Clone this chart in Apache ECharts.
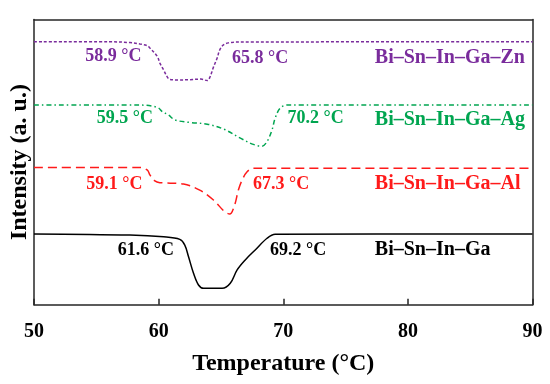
<!DOCTYPE html>
<html>
<head>
<meta charset="utf-8">
<script src="https://cdn.jsdelivr.net/npm/echarts@6/dist/echarts.min.js"></script>
<style>html,body{margin:0;padding:0;background:#fff}#c{width:550px;height:384px}</style>
</head>
<body>
<div id="c"></div>
<script>
// Temperatures (°C) and intensities (a.u., arbitrary 0–100 scale)
const znT = [50, 56.0, 57.7, 58.5, 59.1, 59.3, 59.9, 60.1, 60.4, 60.7, 60.9, 61.6, 62.5, 63.4, 63.9, 64.1, 64.4, 64.7, 64.9, 65.2, 65.6, 66.3, 90];
const znI = [92.2, 92.2, 91.9, 91.4, 90.8, 90.0, 87.0, 84.7, 82.3, 79.8, 79.0, 78.8, 78.9, 79.1, 78.6, 79.6, 83.3, 86.5, 89.3, 91.1, 91.8, 92.1, 92.2];

const agT = [50, 58.5, 59.9, 60.3, 60.8, 61.3, 62.5, 63.9, 65.2, 66.6, 67.6, 68.3, 68.7, 69.1, 69.35, 69.75, 70.3, 90];
const agI = [70.0, 70.0, 69.2, 67.7, 66.5, 64.8, 63.9, 63.3, 61.6, 58.3, 56.2, 55.6, 57.2, 61.3, 65.4, 68.9, 70.0, 70.0];

const alT = [50, 58.5, 59.1, 59.3, 59.7, 60.1, 62.0, 63.3, 64.4, 65.3, 65.7, 66.1, 66.4, 66.7, 67.1, 67.6, 90];
const alI = [48.1, 48.1, 47.2, 45.5, 43.4, 42.8, 42.3, 40.2, 36.7, 32.6, 31.8, 35.0, 40.2, 43.7, 46.6, 47.8, 47.8];

const gaT = [50, 57.7, 60.4, 61.7, 62.1, 62.4, 62.8, 63.2, 63.6, 65.1, 65.75, 66.3, 66.95, 67.75, 68.7, 69.35, 90];
const gaI = [24.8, 24.4, 23.8, 22.9, 20.9, 16.8, 11.0, 6.9, 5.75, 5.75, 7.5, 12.2, 15.7, 19.2, 23.3, 24.7, 24.8];

// Annotations: [temperature, intensity, text]
const znNotes = [[56.37, 87.2, '58.9 °C'], [68.15, 86.5, '65.8 °C']];
const agNotes = [[57.29, 65.5, '59.5 °C'], [72.60, 65.5, '70.2 °C']];
const alNotes = [[56.45, 42.3, '59.1 °C'], [69.83, 42.3, '67.3 °C']];
const gaNotes = [[58.97, 19.2, '61.6 °C'], [71.19, 19.2, '69.2 °C']];
const names = [
  [77.35, 86.4, 'Bi–Sn–In–Ga–Zn'],
  [77.35, 64.8, 'Bi–Sn–In–Ga–Ag'],
  [77.35, 42.3, 'Bi–Sn–In–Ga–Al'],
  [77.35, 19.2, 'Bi–Sn–In–Ga']
];

const xTicks = [50, 60, 70, 80, 90];

const FONT = '"Liberation Serif","Times New Roman",serif';
const C_ZN = '#7a2c9c', C_AG = '#00a550', C_AL = '#ff1a1a', C_GA = '#000000';
const AX = '#262626';

function zip(t, v) { return t.map((x, i) => [x, v[i]]); }
function curve(t, v, color, type) {
  return {
    type: 'line', data: zip(t, v), showSymbol: false, symbol: 'none',
    smooth: 0.35, silent: true,
    lineStyle: { color, width: 1.5, type }
  };
}
function notes(items, color, align, size) {
  return {
    type: 'scatter', symbolSize: 0, silent: true,
    itemStyle: { opacity: 1 },
    data: items.map(d => ({ value: [d[0], d[1]], label: { formatter: d[2] } })),
    label: { show: true, position: [0, 0], align, verticalAlign: 'middle', opacity: 1,
      color, fontFamily: FONT, fontWeight: 'bold', fontSize: size }
  };
}
const lineOnly = { show: true, onZero: false, lineStyle: { color: AX, width: 1.5 } };

const chart = echarts.init(document.getElementById('c'), null, { renderer: 'canvas' });
chart.setOption({
  animation: false,
  backgroundColor: '#fff',
  grid: { left: 33.5, right: 17.5, top: 19.5, bottom: 79.3, containLabel: false },
  xAxis: [{
    type: 'value', min: xTicks[0], max: xTicks[xTicks.length - 1], interval: 10,
    position: 'bottom',
    axisLine: lineOnly,
    axisTick: { show: true, inside: true, length: 6, lineStyle: { color: AX, width: 1.5 } },
    axisLabel: { show: true, margin: 17, color: '#000', fontFamily: FONT, fontWeight: 'bold', fontSize: 20 },
    splitLine: { show: false },
    name: 'Temperature (°C)', nameLocation: 'middle', nameGap: 47,
    nameTextStyle: { color: '#000', fontFamily: FONT, fontWeight: 'bold', fontSize: 24 }
  }, {
    type: 'value', min: 50, max: 90, position: 'top',
    axisLine: lineOnly,
    axisTick: { show: false }, axisLabel: { show: false }, splitLine: { show: false }
  }],
  yAxis: [{
    type: 'value', min: 0, max: 100, position: 'left',
    axisLine: lineOnly,
    axisTick: { show: false }, axisLabel: { show: false }, splitLine: { show: false },
    name: 'Intensity (a. u.)', nameLocation: 'middle', nameGap: 2,
    nameTextStyle: { color: '#000', fontFamily: FONT, fontWeight: 'bold', fontSize: 24 }
  }, {
    type: 'value', min: 0, max: 100, position: 'right',
    axisLine: lineOnly,
    axisTick: { show: false }, axisLabel: { show: false }, splitLine: { show: false }
  }],
  series: [
    curve(znT, znI, C_ZN, [3, 2]),
    curve(agT, agI, C_AG, [5, 3, 1.5, 3]),
    curve(alT, alI, C_AL, [9, 5]),
    curve(gaT, gaI, C_GA, 'solid'),
    notes(znNotes, C_ZN, 'center', 18),
    notes(agNotes, C_AG, 'center', 18),
    notes(alNotes, C_AL, 'center', 18),
    notes(gaNotes, C_GA, 'center', 18),
    notes([names[0]], C_ZN, 'left', 20),
    notes([names[1]], C_AG, 'left', 20),
    notes([names[2]], C_AL, 'left', 20),
    notes([names[3]], C_GA, 'left', 20)
  ]
});
</script>
</body>
</html>
